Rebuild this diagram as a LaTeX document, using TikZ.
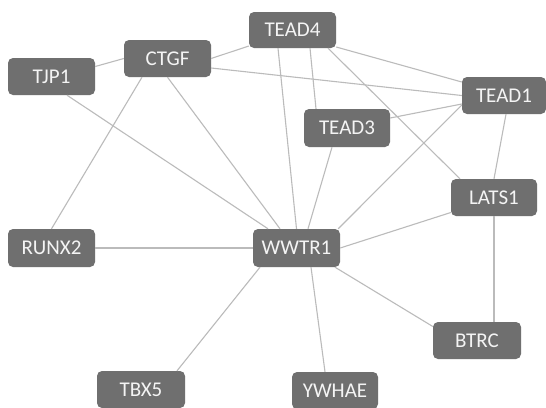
\documentclass[tikz,border=0pt]{standalone}
\usepackage{fontspec}
\setmainfont{Carlito}
\definecolor{boxfill}{HTML}{6F6F6F}
\definecolor{edgecol}{HTML}{BBBBBB}
\definecolor{boxtext}{HTML}{F4F4F4}
\begin{document}
\begin{tikzpicture}[x=1pt,y=-1pt,
  gene/.style={draw=none, fill=boxfill, rounded corners=5pt, minimum width=87pt, minimum height=37pt, inner sep=0pt, text=boxtext, font=\fontsize{21pt}{23pt}\selectfont},
  link/.style={draw=edgecol, line width=1.1pt}]
\useasboundingbox[fill=white] (0,0) rectangle (546,407);
\node[gene] (TJP1) at (51.5,76.5) {TJP1};
\node[gene] (CTGF) at (167.5,58.5) {CTGF};
\node[gene, minimum height=36pt] (TEAD4) at (292.5,30) {TEAD4};
\node[gene, minimum width=84pt] (TEAD1) at (504,95.5) {TEAD1};
\node[gene, minimum width=86pt, minimum height=38pt] (TEAD3) at (347,128) {TEAD3};
\node[gene, minimum width=86pt] (LATS1) at (494,197.5) {LATS1};
\node[gene, minimum height=38pt] (RUNX2) at (51.5,248) {RUNX2};
\node[gene, minimum height=38pt] (WWTR1) at (296.5,248) {WWTR1};
\node[gene, minimum width=88pt] (BTRC) at (477,340.5) {BTRC};
\node[gene, minimum width=88pt] (TBX5) at (141,389.5) {TBX5};
\node[gene, minimum width=86pt] (YWHAE) at (335,390.5) {YWHAE};
\begin{scope}[link]
\draw ([yshift=10pt]TJP1.east) -- (CTGF.west);
\draw ([xshift=15.5pt]TJP1.south) -- ([xshift=-28.5pt]WWTR1.north);
\draw ([xshift=-25.5pt]CTGF.south) -- (RUNX2.north);
\draw (CTGF.south) -- ([xshift=-16.5pt]WWTR1.north);
\draw (CTGF.east) -- ([yshift=-16pt]TEAD4.west);
\draw ([yshift=-9.5pt]CTGF.east) -- (TEAD1.west);
\draw ([yshift=-17pt]TEAD4.east) -- ([yshift=13.5pt]TEAD1.west);
\draw ([xshift=17.5pt]TEAD4.south) -- ([xshift=-31pt]TEAD3.north);
\draw ([xshift=-14.5pt]TEAD4.south) -- (WWTR1.north);
\draw ([xshift=35.5pt]TEAD4.south) -- ([xshift=-34pt]LATS1.north);
\draw ([yshift=10pt]TEAD3.east) -- ([yshift=-8.5pt]TEAD1.west);
\draw ([xshift=-15pt]TEAD3.south) -- ([xshift=11.5pt]WWTR1.north);
\draw ([yshift=-9.5pt]TEAD1.west) -- ([xshift=-2pt]WWTR1.north east);
\draw ([xshift=2pt]TEAD1.south) -- (LATS1.north);
\draw ([yshift=-15pt]LATS1.west) -- (WWTR1.east);
\draw (LATS1.south) -- ([xshift=17pt]BTRC.north);
\draw (RUNX2.east) -- (WWTR1.west);
\draw ([xshift=-36.5pt]WWTR1.south) -- ([xshift=36pt]TBX5.north);
\draw ([xshift=14.5pt]WWTR1.south) -- ([xshift=-10pt]YWHAE.north);
\draw ([xshift=38.5pt]WWTR1.south) -- ([yshift=14pt]BTRC.west);
\end{scope}
\end{tikzpicture}
\end{document}
